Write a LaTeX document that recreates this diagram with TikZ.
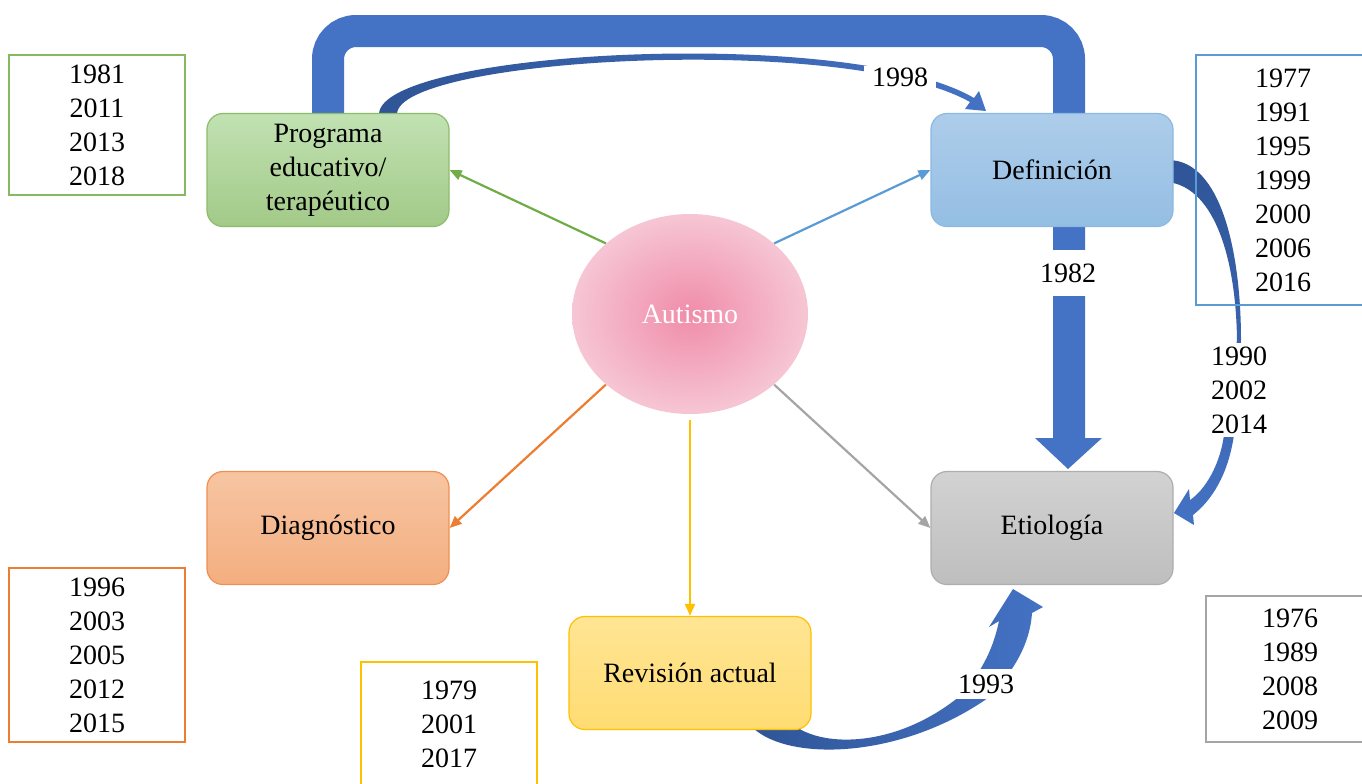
\documentclass[tikz,border=0pt]{standalone}
\usepackage{fontspec}
\setmainfont{Liberation Serif}
\usetikzlibrary{positioning, arrows.meta, shapes.geometric}

\definecolor{flecha}{HTML}{4472C4}
\definecolor{flechaosc}{HTML}{2F5597}
\definecolor{verde}{HTML}{70AD47}
\definecolor{azul}{HTML}{5B9BD5}
\definecolor{naranja}{HTML}{ED7D31}
\definecolor{amarillo}{HTML}{FFC000}
\definecolor{gris}{HTML}{A5A5A5}

\tikzset{
	tema/.style={draw, rounded corners=8pt, minimum width=121pt, minimum height=56.5pt, align=center, font=\fontsize{14}{17}\selectfont, line width=0.6pt},
	anios/.style={draw, line width=0.6pt, align=center, font=\fontsize{14}{17}\selectfont, inner sep=0pt},
	rama/.style={line width=1.1pt, -{Triangle[length=6pt,width=5pt]}},
	etiq/.style={fill=white, font=\fontsize{14}{17}\selectfont, inner sep=1pt, align=center},
}

\begin{document}
\begin{tikzpicture}[x=0.5pt, y=-0.5pt]
	\useasboundingbox (0,0) rectangle (1362,783);
	\fill[white] (0,0) rectangle (1362,783);

	% cajas de temas
	\coordinate (cprog) at (328,170);
	\coordinate (cdef) at (1052,170);
	\coordinate (cdiag) at (328,528);
	\coordinate (cetio) at (1052,528);
	\coordinate (crev) at (690,673);

	% flecha grande (detras de las cajas)
	\coordinate (cola) at (1069,438);
	\draw[flecha, line width=16pt, rounded corners=14pt] (cprog |- 0,114) -- (328,31) -- (1069,31) -- (cola);
	\fill[flecha] (cola) ++(-34,0) -- ++(67,0) -- (1068,469) -- cycle;

	% flechas curvas
	\shade[left color=flechaosc, right color=flecha] (379,114) .. controls (381,50) and (850,25) .. (974,98) -- (979,91) -- (986,111) -- (965,109) -- (970,102) .. controls (845,32) and (398,58) .. (397,114) -- cycle;
	\shade[top color=flechaosc, bottom color=flecha] (1168,160) .. controls (1222,160) and (1241,255) .. (1241,340) -- (1234,435) .. controls (1228,475) and (1212,500) .. (1193,515) -- (1194,525) -- (1174,513) -- (1189,489) -- (1190,500) .. controls (1205,490) and (1220,465) .. (1224,435) -- (1237,340) .. controls (1236,262) and (1216,188) .. (1168,182) -- cycle;
	\shade[left color=flechaosc, right color=flecha] (753,728) .. controls (790,762) and (900,758) .. (985,700) .. controls (1012,675) and (1030,645) .. (1032,613) -- (1043,607) -- (1013,589) -- (989,627) -- (999,621) .. controls (994,645) and (984,670) .. (960,696) .. controls (900,745) and (830,748) .. (798,728) -- cycle;

	\node[tema, top color=green!10!verde!40, bottom color=verde!65, draw=verde!80] (prog) at (cprog) {Programa\\educativo/\\terapéutico};
	\node[tema, top color=azul!50, bottom color=azul!65, draw=azul!70] (def) at (cdef) {Definición};
	\node[tema, top color=naranja!45, bottom color=naranja!62, draw=naranja!85] (diag) at (cdiag) {Diagnóstico};
	\node[tema, top color=gris!50, bottom color=gris!72, draw=gris!90] (etio) at (cetio) {Etiología};
	\node[tema, top color=amarillo!42, bottom color=amarillo!55, draw=amarillo] (rev) at (crev) {Revisión actual};

	% centro
	\node[ellipse, minimum width=118pt, minimum height=100pt, inner color={rgb,255:red,240;green,140;blue,170}, outer color={rgb,255:red,246;green,198;blue,212}, text=white, font=\fontsize{14}{17}\selectfont] (aut) at (690,314) {Autismo};

	\draw[rama, verde] (aut.140) -- (prog.east);
	\draw[rama, azul] (aut.40) -- (def.west);
	\draw[rama, naranja] (aut.220) -- (diag.east);
	\draw[rama, gris] (aut.320) -- (etio.west);
	\draw[rama, amarillo, shorten <=3pt] (aut.south) -- (rev.north);

	% etiquetas de las flechas
	\node[etiq, inner xsep=4pt] (e98) at (900,77) {1998};
	\node[etiq, minimum height=23pt] (e82) at (1068,273) {1982};
	\node[etiq, inner ysep=2pt] (e90) at (1239,390) {1990\\2002\\2014};
	\node[etiq, inner xsep=2pt, inner ysep=3pt] (e93) at (986,684) {1993};

	% cajas de años
	\node[anios, draw=verde!85, minimum width=88pt, minimum height=70pt] (aprog) at (97,125) {1981\\2011\\2013\\2018};
	\node[anios, draw=azul, minimum width=87pt, minimum height=125pt] (adef) at (1283,180) {1977\\1991\\1995\\1999\\2000\\2006\\2016};
	\node[anios, draw=naranja, minimum width=88pt, minimum height=87pt] (adiag) at (97,655) {1996\\2003\\2005\\2012\\2015};
	\node[anios, draw=amarillo, minimum width=88pt, minimum height=62pt] (arev) at (449,724) {1979\\2001\\2017};
	\node[anios, draw=gris, minimum width=84pt, minimum height=73pt] (aetio) at (1290,669) {1976\\1989\\2008\\2009};
\end{tikzpicture}
\end{document}
